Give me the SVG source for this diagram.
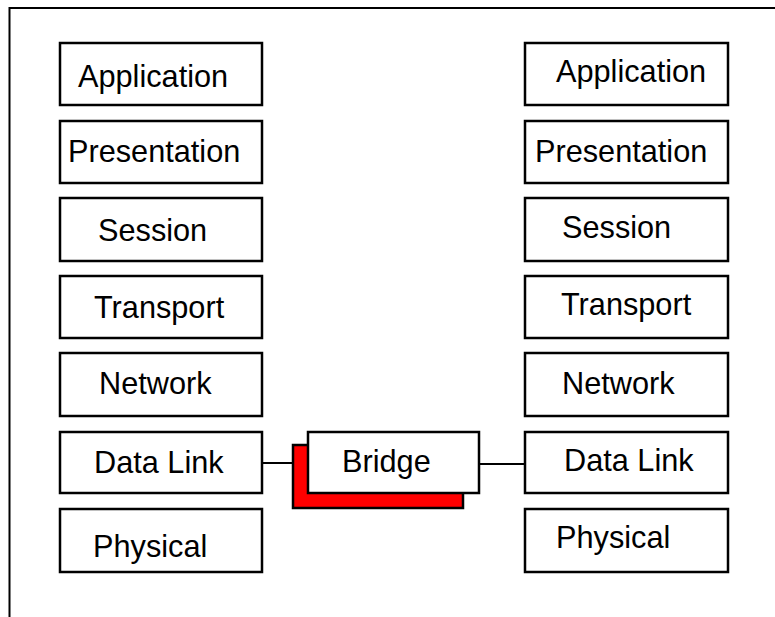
<svg xmlns="http://www.w3.org/2000/svg" width="775" height="617" viewBox="0 0 775 617">
<style>
.box{fill:#fff;stroke:#000;stroke-width:2.5}
.shadow{fill:#f00;stroke:#000;stroke-width:2.5}
.lbl{font-family:"Liberation Sans",Arial,sans-serif;font-size:30.7px;fill:#000}
.line{stroke:#000;stroke-width:2;fill:none}
</style>
<rect width="775" height="617" fill="#fff"/>
<g id="frame"><path class="line" d="M9.5 617 V8 H775" stroke-width="2.5"/></g>
<g id="left-application"><rect class="box" x="60" y="43" width="202" height="62"/><text class="lbl" x="78" y="87">Application</text></g>
<g id="left-presentation"><rect class="box" x="60" y="121" width="202" height="62"/><text class="lbl" x="68" y="162">Presentation</text></g>
<g id="left-session"><rect class="box" x="60" y="198" width="202" height="63"/><text class="lbl" x="98" y="240.5">Session</text></g>
<g id="left-transport"><rect class="box" x="60" y="276" width="202" height="62"/><text class="lbl" x="94" y="318">Transport</text></g>
<g id="left-network"><rect class="box" x="60" y="353" width="202" height="63"/><text class="lbl" x="99" y="394">Network</text></g>
<g id="left-datalink"><rect class="box" x="60" y="432" width="202" height="61"/><text class="lbl" x="94" y="473">Data Link</text></g>
<g id="left-physical"><rect class="box" x="60" y="509" width="202" height="63"/><text class="lbl" x="93" y="557">Physical</text></g>
<g id="right-application"><rect class="box" x="525" y="43" width="203" height="62"/><text class="lbl" x="556" y="82">Application</text></g>
<g id="right-presentation"><rect class="box" x="525" y="121" width="203" height="62"/><text class="lbl" x="535" y="162">Presentation</text></g>
<g id="right-session"><rect class="box" x="525" y="198" width="203" height="63"/><text class="lbl" x="562" y="238">Session</text></g>
<g id="right-transport"><rect class="box" x="525" y="276" width="203" height="62"/><text class="lbl" x="561" y="315">Transport</text></g>
<g id="right-network"><rect class="box" x="525" y="353" width="203" height="63"/><text class="lbl" x="562" y="394">Network</text></g>
<g id="right-datalink"><rect class="box" x="525" y="432" width="203" height="61"/><text class="lbl" x="564" y="471">Data Link</text></g>
<g id="right-physical"><rect class="box" x="525" y="509" width="203" height="63"/><text class="lbl" x="556" y="548">Physical</text></g>
<g id="connectors">
<line class="line" x1="262" y1="463" x2="298" y2="463"/>
<line class="line" x1="479" y1="464" x2="525" y2="464"/>
</g>
<g id="bridge"><rect class="shadow" x="293" y="445" width="170" height="63"/><rect class="box" x="308" y="432" width="171" height="61"/><text class="lbl" x="342" y="472">Bridge</text></g>
</svg>
